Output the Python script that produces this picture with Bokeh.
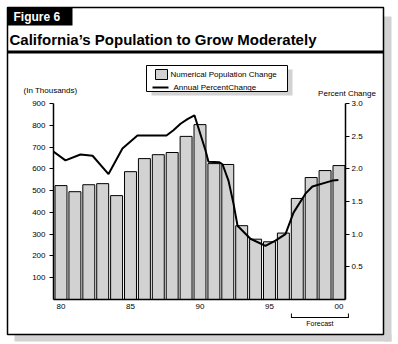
from bokeh.plotting import figure
from bokeh.models import (LinearAxis, Range1d, FixedTicker, NumeralTickFormatter,
                          ColumnDataSource)
from bokeh.core.properties import value
from bokeh.embed import file_html
from bokeh.resources import INLINE

# ---- data ----
years = list(range(1980, 2001))
pop_change = [523, 495, 527, 532, 477, 587, 647, 665, 675, 749, 803,
              624, 620, 339, 277, 265, 305, 464, 560, 592, 615]

pct_year = [1979.3, 1980.32, 1981.40, 1982.27, 1983.42, 1984.42, 1985.50, 1986.58,
            1987.59, 1988.09, 1988.60, 1989.10, 1989.60, 1990.40, 1990.61, 1991.40,
            1991.62, 1992.05, 1992.41, 1992.70, 1993.63, 1994.71, 1995.43, 1996.15,
            1996.73, 1997.59, 1998.09, 1999.53, 1999.96]
pct_change = [2.29, 2.13, 2.22, 2.20, 1.92, 2.31, 2.51, 2.51,
              2.51, 2.59, 2.69, 2.76, 2.82, 2.28, 2.11, 2.10,
              2.07, 1.82, 1.47, 1.13, 0.93, 0.82, 0.90, 1.00,
              1.33, 1.62, 1.73, 1.82, 1.83]

left_ticks = [100, 200, 300, 400, 500, 600, 700, 800, 900]
right_ticks = [0.5, 1.0, 1.5, 2.0, 2.5, 3.0]
x_ticks = [1980, 1985, 1990, 1995, 2000]
x_tick_labels = ["80", "85", "90", "95", "00"]
forecast_span = [1996.58, 2000.68]

title_text = "California\u2019s Population to Grow Moderately"
legend_labels = ["Numerical Population Change", "Annual PercentChange"]

FONT = "Liberation Sans"
GRAY = "#d2d2d2"

# frame occupies canvas pixels x 53..345, y 103..299
p = figure(width=398, height=344, output_backend="svg", toolbar_location=None,
           x_range=Range1d(1979.46, 2000.47), y_range=Range1d(0, 900),
           min_border_left=53, min_border_right=53, min_border_top=103,
           min_border_bottom=45, x_axis_location=None, y_axis_location=None)
p.outline_line_color = None
p.grid.visible = False
p.background_fill_color = "white"
p.border_fill_color = "white"
p.extra_y_ranges = {"pct": Range1d(0, 3), "cy": Range1d(299, 103)}
p.extra_x_ranges = {"cx": Range1d(53, 345)}

src = ColumnDataSource(dict(x=years, top=pop_change))
bars = p.vbar(x="x", top="top", width=0.86, bottom=0, source=src,
              fill_color=GRAY, line_color="black", line_width=1)
line = p.line(pct_year, pct_change, y_range_name="pct", line_color="black",
              line_width=2)

def style_axis(ax):
    ax.axis_line_width = 1.5
    ax.axis_line_color = "black"
    ax.major_tick_line_color = "black"
    ax.major_tick_line_width = 1
    ax.major_tick_in = 0
    ax.major_tick_out = 4
    ax.minor_tick_line_color = None
    ax.major_label_text_font = FONT
    ax.major_label_text_font_size = "8px"
    ax.major_label_text_color = "black"

yl = LinearAxis(ticker=FixedTicker(ticks=left_ticks))
style_axis(yl)
yl.major_label_standoff = 4
p.add_layout(yl, "left")

yr = LinearAxis(y_range_name="pct", ticker=FixedTicker(ticks=right_ticks),
                formatter=NumeralTickFormatter(format="0.0"))
style_axis(yr)
yr.major_label_standoff = 2
p.add_layout(yr, "right")

xb = LinearAxis(ticker=FixedTicker(ticks=x_ticks),
                major_label_overrides={t: s for t, s in zip(x_ticks, x_tick_labels)})
style_axis(xb)
xb.major_tick_out = 0
xb.major_label_standoff = 4
p.add_layout(xb, "below")

# ---- decorations, drawn in canvas-pixel ranges at overlay level (not clipped) ----
C = dict(x_range_name="cx", y_range_name="cy", level="overlay")

def rect(l, r, t, b, fill=None, line=None, lw=1, **kw):
    p.quad(left=[l], right=[r], top=[t], bottom=[b],
           fill_color=fill, fill_alpha=1 if fill else 0,
           line_color=line, line_width=lw, **{**C, **kw})

def label(x, y, s, size, bold=False, color="black", align="left", **kw):
    p.text(x=[x], y=[y], text=[s], text_font=value(FONT),
           text_font_size=value(size), text_font_style="bold" if bold else "normal",
           text_color=color, text_align=align, text_baseline="middle",
           **{**C, **kw})

# outer box shadow and outline
rect(383, 391, 16, 341, fill=GRAY)
rect(14, 391, 334, 341, fill=GRAY)
rect(7, 383, 7, 334, line="black", lw=1.5)
# "Figure 6" tab, title, rule
rect(7, 72, 7, 25, fill="black")
label(13, 16.5, "Figure 6", "12px", bold=True, color="white")
label(9, 39, title_text, "15px", bold=True)
rect(7, 383, 50, 53, fill="black")
# axis titles
label(23, 90, "(In Thousands)", "8px")
label(346.5, 93, "Percent Change", "8px", align="center")
# legend
rect(151, 292, 69, 95, fill=GRAY)
rect(146, 287, 65, 91, fill="white", line="black", lw=1)
rect(155, 167, 69, 79, fill=GRAY, line="black", lw=1)
p.segment(x0=[152], x1=[168], y0=[87], y1=[87], line_color="black", line_width=2, **C)
label(170, 74, legend_labels[0], "8px")
label(173, 87, legend_labels[1], "8px")
# forecast bracket (x in years, y in canvas pixels)
F = dict(y_range_name="cy", level="overlay")
p.segment(x0=[forecast_span[0]], x1=[forecast_span[1]], y0=[317], y1=[317],
          line_color="black", line_width=1, **F)
p.segment(x0=forecast_span, x1=forecast_span, y0=[313, 313], y1=[317.5, 317.5],
          line_color="black", line_width=1, **F)
p.text(x=[sum(forecast_span) / 2], y=[322.5], text=["Forecast"], text_font=value(FONT),
       text_font_size=value("7px"), text_align="center", text_baseline="middle",
       text_color="black", **F)

open("out.html", "w").write(file_html(p, INLINE))
